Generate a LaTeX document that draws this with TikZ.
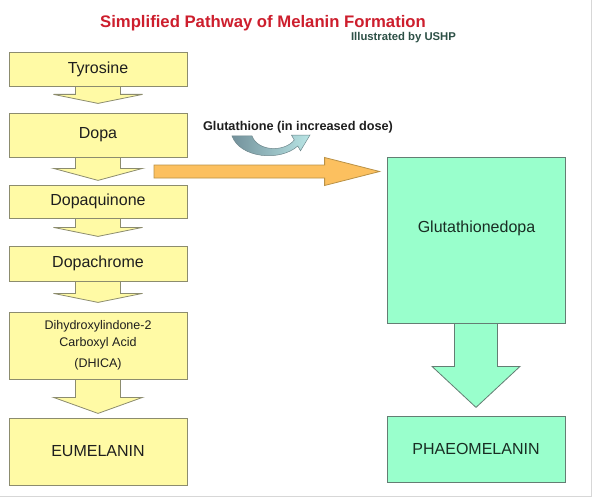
\documentclass[tikz,border=0pt]{standalone}
\usepackage{fontspec}
\setmainfont{Liberation Sans}
\usetikzlibrary{backgrounds,calc}
\definecolor{boxyellow}{RGB}{255,250,165}
\definecolor{yellowline}{RGB}{140,140,110}
\definecolor{boxteal}{RGB}{153,255,204}
\definecolor{tealline}{RGB}{100,125,115}
\definecolor{orangefill}{RGB}{252,192,95}
\definecolor{orangeline}{RGB}{185,145,70}
\definecolor{titlered}{RGB}{205,30,45}
\definecolor{subgreen}{RGB}{45,80,70}
\definecolor{curvedark}{RGB}{115,145,155}
\definecolor{curvelight}{RGB}{185,230,230}
\definecolor{curveline}{RGB}{110,135,140}
\definecolor{framegray}{RGB}{215,215,215}
\definecolor{darktext}{RGB}{30,30,30}
\definecolor{tealtext}{RGB}{25,45,35}
% #1 style, #2 source node, #3 shaft length, #4 head length, #5 shaft half width, #6 head half width
\newcommand{\dnarrow}[6]{%
  \draw[#1] ([shift={(-#5pt,2pt)}]#2.south)
    -- ([shift={(-#5pt,-#3pt)}]#2.south)
    -- ([shift={(-#6pt,-#3pt)}]#2.south)
    -- ([shift={(0pt,-#3pt-#4pt)}]#2.south)
    -- ([shift={(#6pt,-#3pt)}]#2.south)
    -- ([shift={(#5pt,-#3pt)}]#2.south)
    -- ([shift={(#5pt,2pt)}]#2.south) -- cycle;}
\begin{document}
\begin{tikzpicture}[x=1pt,y=-1pt,
  ybox/.style={draw=yellowline, fill=boxyellow, line width=0.8pt, minimum width=178pt,
    inner sep=0pt, font=\fontsize{16}{19}\selectfont, text=darktext},
  tbox/.style={draw=tealline, fill=boxteal, line width=0.8pt, minimum width=178pt,
    inner sep=0pt, font=\fontsize{16}{19}\selectfont, text=tealtext},
  yarrow/.style={draw=yellowline, fill=boxyellow, line width=0.8pt, line join=miter},
  tarrow/.style={draw=tealline, fill=boxteal, line width=0.8pt, line join=miter},
  oarrow/.style={draw=orangeline, fill=orangefill, line width=0.8pt, line join=miter},
  titletext/.style={font=\bfseries\fontsize{16.7}{20}\selectfont, text=titlered, inner sep=0pt},
  subtext/.style={font=\bfseries\fontsize{11.3}{13}\selectfont, text=subgreen, inner sep=0pt},
  glabel/.style={font=\bfseries\fontsize{12.7}{15}\selectfont, text=darktext, inner sep=0pt},
  plain/.style={font=\fontsize{16}{19}\selectfont, text=tealtext, inner sep=0pt}
]
\useasboundingbox (0,0) rectangle (593,497);
\begin{pgfonlayer}{background}
\fill[white] (0,0) rectangle (593,497);
\end{pgfonlayer}
\draw[framegray, line width=1pt] (591.5,0) -- (591.5,496.5) -- (0,496.5);

% titles
\node[titletext] (title) at (263,23) {Simplified Pathway of Melanin Formation};
\node[subtext] (sub) at (403.5,37.5) {Illustrated by USHP};

% left column
\node[ybox, minimum height=34pt] (tyr) at (98,69) {Tyrosine};
\node[ybox, minimum height=44pt] (dopa) at (98,135) {Dopa};
\node[ybox, minimum height=33pt] (dq) at (98,201.5) {Dopaquinone};
\node[ybox, minimum height=35pt] (dc) at (98,263.5) {Dopachrome};
\node[ybox, minimum height=67pt, align=center, font=\fontsize{12.5}{17}\selectfont] (dhica) at (98,345.5)
  {Dihydroxylindone-2\\Carboxyl Acid\\[4pt](DHICA)};
\node[ybox, minimum height=67pt] (eu) at (98,451.5) {EUMELANIN};

% right column
\node[tbox, minimum height=166pt] (glut) at (476,240) {};
\node[plain] (glutlbl) at (476.5,228) {Glutathionedopa};
\node[tbox, minimum height=66pt] (phaeo) at (476,449) {PHAEOMELANIN};

% block arrows behind the boxes
\begin{pgfonlayer}{background}
\dnarrow{yarrow}{tyr}{8}{9}{22.5}{44.5}
\dnarrow{yarrow}{dopa}{11}{12}{22.5}{44.5}
\dnarrow{yarrow}{dq}{9}{9}{22.5}{44.5}
\dnarrow{yarrow}{dc}{12}{9}{22.5}{44.5}
\dnarrow{yarrow}{dhica}{18}{16}{22.5}{44.5}
\dnarrow{tarrow}{glut}{43}{41}{21.5}{44}
\end{pgfonlayer}

% orange arrow to glutathionedopa
\coordinate (ostart) at (154,171.5);
\path (glut.west |- ostart) ++(-7pt,0pt) coordinate (otip);
\draw[oarrow] let \p1=(ostart), \p2=(otip) in
  (\x1,\y1+6.5pt) -- (\x2-55pt,\y1+6.5pt) -- (\x2-55pt,\y1+14pt) -- (\x2,\y2)
  -- (\x2-55pt,\y1-14pt) -- (\x2-55pt,\y1-6.5pt) -- (\x1,\y1-6.5pt) -- cycle;

% glutathione label and curved arrow
\node[glabel] (gsh) at (298,127) {Glutathione (in increased dose)};
\draw[curveline, line width=0.5pt, left color=curvedark, right color=curvelight]
  (232,136) .. controls (240,158) and (280,162) .. (297.75,146)
  -- (300.5,150.8) -- (310,135) -- (291.5,135.2) -- (294.25,140)
  .. controls (285,152) and (258,152) .. (252,136) -- cycle;
\end{tikzpicture}
\end{document}
